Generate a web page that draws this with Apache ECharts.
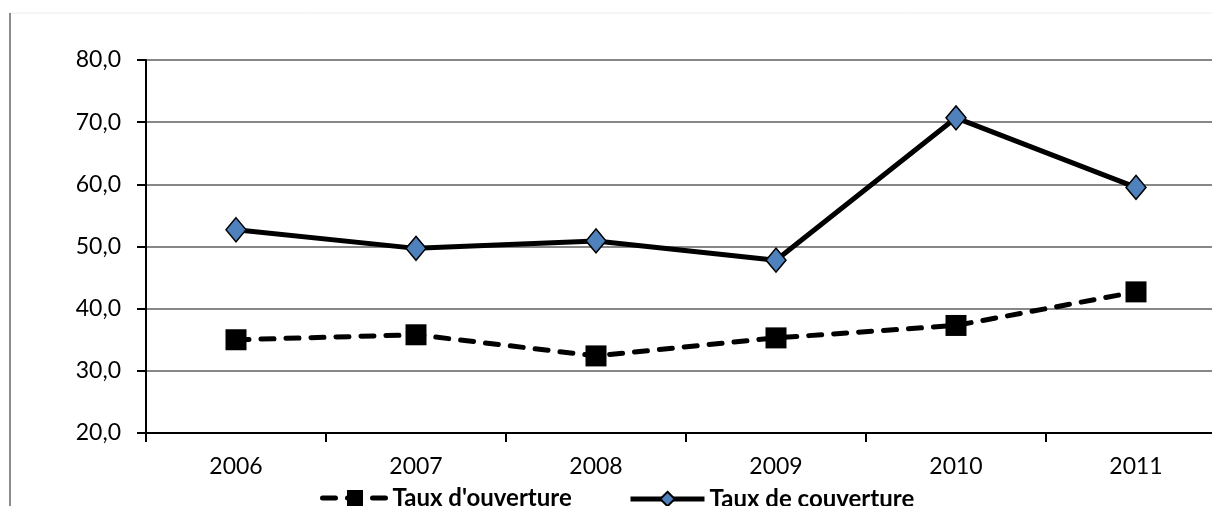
<!DOCTYPE html>
<html>
<head>
<meta charset="utf-8">
<script src="https://cdn.jsdelivr.net/npm/echarts@6/dist/echarts.min.js"></script>
<style>
  html, body { margin: 0; padding: 0; background: #fff; }
  #chart { width: 1212px; height: 506px; }
</style>
</head>
<body>
<div id="chart"></div>
<script>
// Years on the horizontal axis
const years = ['2006', '2007', '2008', '2009', '2010', '2011'];
// Taux d'ouverture (%)
const tauxOuverture = [35.0, 35.8, 32.4, 35.3, 37.3, 42.7];
// Taux de couverture (%)
const tauxCouverture = [52.7, 49.7, 50.9, 47.8, 70.7, 59.5];
// Vertical scale
const yMin = 20, yMax = 80, yStep = 10;

const NAME_OUV = 'Taux d\'ouverture';
const NAME_COUV = 'Taux de couverture';

const chart = echarts.init(document.getElementById('chart'), null, { renderer: 'canvas' });

const fontFamily = 'Lato, "Liberation Sans", sans-serif';
const legendText = { fontFamily: fontFamily, fontSize: 24, fontWeight: 'bold', color: '#000' };

chart.setOption({
  animation: false,
  backgroundColor: '#ffffff',
  textStyle: { fontFamily: fontFamily },
  grid: { left: 146, top: 60, right: -14, bottom: 73, containLabel: false, outerBoundsMode: 'none' },
  graphic: [
    { type: 'line', shape: { x1: 10, y1: 13, x2: 1212, y2: 13 }, style: { stroke: '#ececec', lineWidth: 1 }, silent: true },
    { type: 'line', shape: { x1: 10, y1: 13, x2: 10, y2: 506 }, style: { stroke: '#8c8c8c', lineWidth: 2 }, silent: true }
  ],
  legend: [
    {
      left: 315, top: 481,
      itemWidth: 65, itemHeight: 20, itemGap: 10,
      lineStyle: { width: 5 },
      textStyle: legendText,
      data: [NAME_OUV]
    },
    {
      left: 623, top: 482,
      itemWidth: 74, itemHeight: 18, itemGap: 10,
      lineStyle: { width: 5 },
      textStyle: legendText,
      data: [NAME_COUV]
    }
  ],
  xAxis: {
    type: 'category',
    data: years,
    boundaryGap: true,
    axisLine: { lineStyle: { color: '#000', width: 2 } },
    axisTick: { show: true, length: 9, lineStyle: { color: '#000', width: 2 } },
    axisLabel: { color: '#000', fontSize: 23, margin: 22, fontFamily: fontFamily },
    splitLine: { show: false }
  },
  yAxis: {
    type: 'value',
    min: yMin,
    max: yMax,
    interval: yStep,
    axisLine: { show: true, lineStyle: { color: '#000', width: 2 } },
    axisTick: { show: true, length: 9, lineStyle: { color: '#000', width: 2 } },
    axisLabel: {
      color: '#000', fontSize: 23, margin: 25, fontFamily: fontFamily,
      formatter: v => v.toFixed(1).replace('.', ',')
    },
    splitLine: { show: true, lineStyle: { color: '#878787', width: 2 } }
  },
  series: [
    {
      name: NAME_OUV,
      type: 'line',
      data: tauxOuverture,
      symbol: 'rect',
      symbolSize: 21,
      lineStyle: { color: '#000', width: 5, type: [13, 12], cap: 'round' },
      itemStyle: { color: '#000', borderColor: '#000', borderWidth: 0 },
      z: 3
    },
    {
      name: NAME_COUV,
      type: 'line',
      data: tauxCouverture,
      symbol: 'diamond',
      symbolSize: [20, 24],
      lineStyle: { color: '#000', width: 5 },
      itemStyle: { color: '#4f81bd', borderColor: '#000', borderWidth: 1.5 },
      z: 4
    }
  ]
});
</script>
</body>
</html>
